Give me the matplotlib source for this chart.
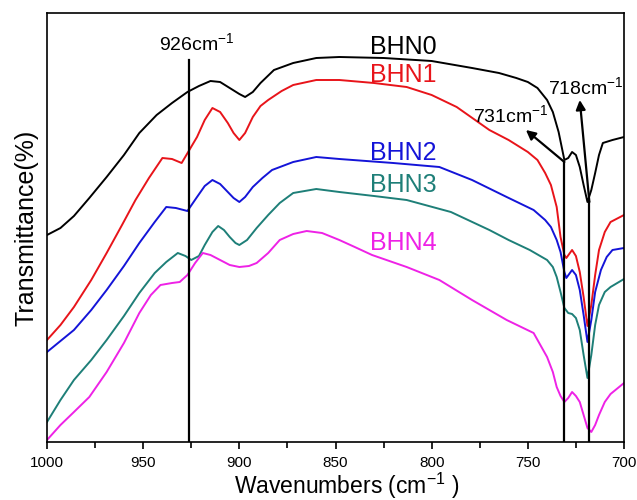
import matplotlib.pyplot as plt
from matplotlib.ticker import MultipleLocator

plt.rcParams["font.family"] = ["Liberation Sans", "DejaVu Sans"]
plt.rcParams["mathtext.fontset"] = "custom"
plt.rcParams["mathtext.rm"] = "Liberation Sans"
plt.rcParams["mathtext.it"] = "Liberation Sans"

# FTIR spectra, transmittance in arbitrary (offset) units
w0 = [1000, 993, 986, 978, 969, 960, 952, 943, 935, 927, 921, 915, 910, 905, 900,
      897, 893, 889, 882, 872, 860, 848, 825, 800, 779, 765, 756, 750, 745, 740,
      737, 734, 731, 729, 727, 725, 723, 721, 719, 717, 715, 713, 711, 706, 700]
t0 = [207, 214, 226, 244, 265, 287, 309, 327, 339, 350, 356, 361, 360, 354, 348,
      345, 350, 359, 372, 379, 384, 385, 384, 381, 374, 369, 364, 360, 354, 342,
      330, 310, 282, 284, 290, 287, 275, 257, 240, 252, 269, 287, 299, 302, 305]

w1 = [1000, 993, 986, 977, 969, 961, 954, 947, 940, 935, 930, 926, 922, 918, 914,
      910, 906, 903, 900, 897, 893, 889, 885, 878, 872, 860, 848, 830, 813, 800,
      787, 770, 760, 750, 745, 741, 738, 735, 733, 731, 730, 727, 725, 723, 721,
      719, 717, 715, 713, 710, 707, 700]
t1 = [102, 117, 135, 162, 189, 217, 242, 264, 284, 283, 279, 292, 305, 322, 334,
      330, 319, 309, 302, 309, 325, 336, 342, 351, 357, 362, 362, 359, 355, 347,
      335, 312, 302, 290, 282, 269, 257, 235, 205, 187, 184, 192, 186, 170, 145,
      116, 137, 167, 192, 210, 220, 227]

w2 = [1000, 993, 986, 977, 969, 960, 952, 944, 938, 933, 927, 922, 918, 914, 910,
      906, 903, 900, 897, 893, 888, 883, 872, 860, 848, 820, 796, 779, 761, 747,
      741, 738, 735, 733, 731, 730, 727, 725, 723, 721, 719, 717, 715, 712, 709,
      706, 700]
t2 = [90, 101, 112, 132, 152, 176, 199, 220, 235, 234, 231, 245, 256, 262, 258,
      250, 244, 240, 245, 255, 264, 272, 280, 285, 283, 279, 275, 262, 245, 232,
      222, 215, 202, 190, 170, 164, 172, 167, 152, 127, 100, 122, 150, 172, 185,
      192, 194]

w3 = [1000, 993, 986, 977, 969, 960, 952, 944, 938, 932, 928, 925, 921, 918, 914,
      911, 908, 905, 902, 900, 896, 891, 885, 879, 872, 860, 848, 830, 813, 790,
      770, 760, 749, 740, 737, 735, 733, 731, 729, 727, 725, 723, 721, 719, 717,
      715, 713, 710, 707, 700]
t3 = [20, 42, 62, 82, 102, 126, 149, 169, 180, 189, 186, 182, 186, 197, 210,
      216, 212, 205, 199, 197, 202, 214, 227, 239, 249, 253, 250, 246, 242, 230,
      212, 202, 192, 182, 175, 165, 150, 134, 129, 128, 124, 112, 87, 64, 87,
      117, 137, 150, 155, 163]

w4 = [1000, 993, 986, 978, 969, 960, 952, 946, 941, 935, 931, 927, 923, 919, 915,
      910, 905, 900, 895, 891, 885, 879, 872, 865, 857, 848, 840, 831, 813, 796,
      779, 761, 747, 740, 737, 735, 733, 731, 729, 727, 725, 723, 721, 719, 717,
      715, 713, 710, 707, 700]
t4 = [2, 17, 30, 45, 70, 99, 129, 147, 157, 159, 160, 167, 179, 189, 187,
      182, 177, 175, 176, 179, 189, 202, 208, 211, 209, 202, 195, 187, 175, 162,
      142, 122, 109, 85, 70, 55, 46, 40, 44, 50, 46, 40, 27, 14, 10,
      17, 27, 40, 48, 59]

names = ["BHN0", "BHN1", "BHN2", "BHN3", "BHN4"]
colors = ["black", "#e8141a", "#1414d8", "#1e7f78", "#ee22e6"]
label_y = [395, 367, 289, 257, 199]

peaks = [926, 731, 718]

fig = plt.figure(figsize=(6.37, 5.0), dpi=100)
ax = fig.add_axes([0.0738, 0.116, 0.9058, 0.858])

for w, t, c in zip([w0, w1, w2, w3, w4], [t0, t1, t2, t3, t4], colors):
    ax.plot(w, t, color=c, lw=1.4)

for name, c, y in zip(names, colors, label_y):
    ax.text(815, y, name, color=c, fontsize=18, ha="center", va="center")

# marker lines for the bands
ax.plot([peaks[0], peaks[0]], [0, 382], color="black", lw=1.6)
ax.plot([peaks[1], peaks[1]], [0, 280], color="black", lw=1.6)
ax.plot([peaks[2], peaks[2]], [0, 240], color="black", lw=1.6)

ax.text(922, 399, "926cm$^{-1}$", fontsize=14, ha="center", va="center")
ax.text(759, 327, "731cm$^{-1}$", fontsize=14, ha="center", va="center")
ax.annotate("", xy=(751, 312), xytext=(731, 280),
            arrowprops=dict(arrowstyle="-|>", color="black", lw=1.6,
                            mutation_scale=14, shrinkA=0, shrinkB=0))
ax.text(720, 355, "718cm$^{-1}$", fontsize=14, ha="center", va="center")
ax.annotate("", xy=(723, 342), xytext=(718, 240),
            arrowprops=dict(arrowstyle="-|>", color="black", lw=1.6,
                            mutation_scale=14, shrinkA=0, shrinkB=0))

ax.set_xlim(1000, 700)
ax.set_ylim(0, 429)
ax.xaxis.set_major_locator(MultipleLocator(50))
ax.xaxis.set_minor_locator(MultipleLocator(25))
ax.tick_params(axis="x", which="major", direction="out", length=5, width=1.2,
               labelsize=11, pad=5, top=False)
ax.tick_params(axis="x", which="minor", direction="out", length=4, width=1.2,
               top=False)
ax.set_yticks([])
for s in ax.spines.values():
    s.set_linewidth(1.2)

ax.set_xlabel("Wavenumbers (cm$^{-1}$ )", fontsize=16.5, labelpad=0)
ax.xaxis.set_label_coords(0.52, -0.066)
ax.set_ylabel("Transmittance(%)", fontsize=18, labelpad=6)

fig.savefig("out.png", dpi=100)
